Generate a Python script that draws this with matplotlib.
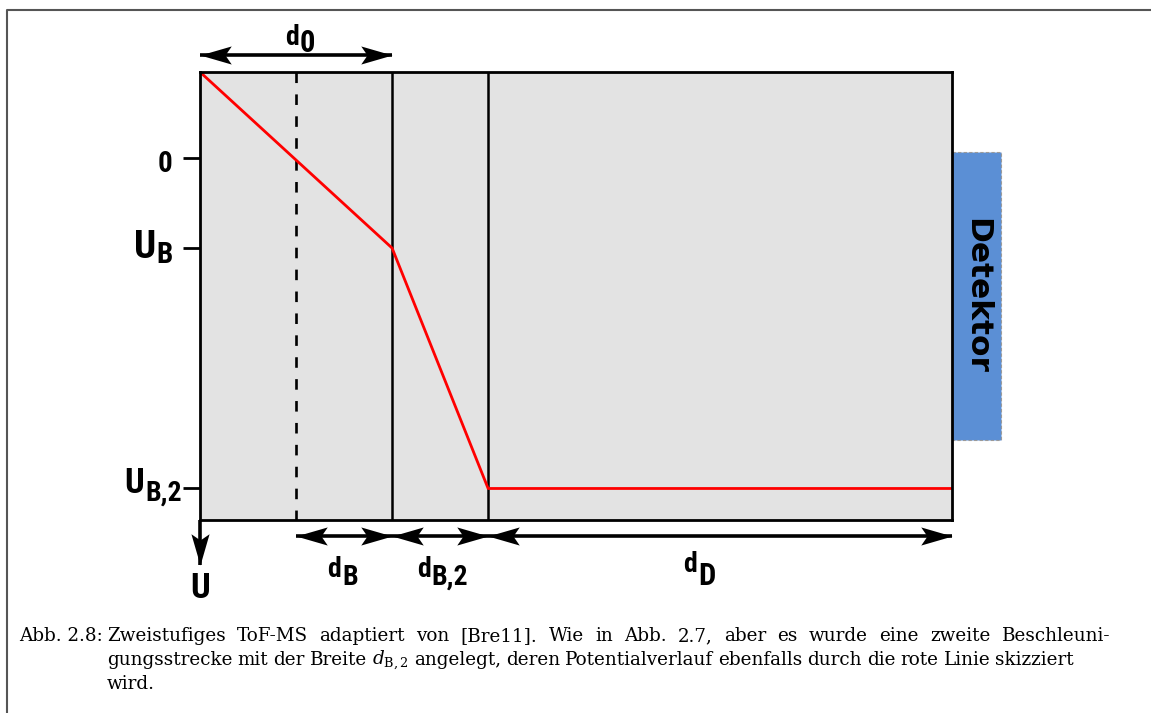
import matplotlib
matplotlib.use("Agg")
import matplotlib.pyplot as plt
from matplotlib.lines import Line2D
from matplotlib.markers import MarkerStyle
from matplotlib.patches import Rectangle
from matplotlib.path import Path

plt.rcParams.update({"mathtext.fontset": "dejavuserif"})

W, H = 1151, 713

# electrode positions along the flight axis: repeller, start plane, grid B, grid B2, detector
PLATE_X = [0.0, 1.0, 2.0, 3.0, 7.83]
# potential along the flight axis (units of U_B, drawn increasing downward)
PROFILE_X = [0.0, 2.0, 3.0, 7.83]
PROFILE_U = [-0.955, 1.0, 3.67, 3.67]
U_TICKS = [0.0, 1.0, 3.67]
U_RANGE = (-0.955, 4.02)
DETECTOR_U = (-0.07, 3.13)
DETECTOR_W = 0.51

LABEL_FONT = ["Roboto Condensed", "Open Sans", "DejaVu Sans"]
CAPTION_FONT = ["DejaVu Serif"]
CAPTION_SIZE = 13.2

fig = plt.figure(figsize=(W / 100, H / 100), dpi=100)
renderer = fig.canvas.get_renderer()


def fx(px):
    return px / W


def fy(py):
    return 1 - py / H


def _head(direction):
    pts = [(0, 0), (-1, 0.29), (-0.8, 0), (-1, -0.29), (0, 0)]
    if direction == "left":
        pts = [(-x, y) for x, y in pts]
    elif direction == "down":
        pts = [(-y, -x) for x, y in pts]
    codes = [Path.MOVETO, Path.LINETO, Path.LINETO, Path.LINETO, Path.CLOSEPOLY]
    return MarkerStyle(Path(pts, codes))


def arrow(ax, p0, p1, heads, lw=2.6, ms=45):
    ax.plot([p0[0], p1[0]], [p0[1], p1[1]], color="k", lw=lw,
            solid_capstyle="butt", clip_on=False)
    for pos, d in heads:
        ax.plot([pos[0]], [pos[1]], marker=_head(d), ms=ms, color="k",
                mew=0, ls="none", clip_on=False)


def width_px(t):
    return t.get_window_extent(renderer).width


def label(main, sub, x, y_main, y_sub, s_main, s_sub, align, gap=1):
    kw = dict(va="baseline", fontweight="heavy", family=LABEL_FONT)
    t1 = fig.text(0, 0, main, fontsize=s_main, **kw)
    t2 = fig.text(0, 0, sub, fontsize=s_sub, **kw) if sub else None
    total = width_px(t1) + (gap + width_px(t2) if t2 else 0)
    left = {"left": x, "right": x - total, "center": x - total / 2}[align]
    t1.set_position((fx(left), fy(y_main)))
    if t2:
        t2.set_position((fx(left + width_px(t1) + gap), fy(y_sub)))


def justified(text, x0, x1, y, size):
    words = text.split(" ")
    ts = [fig.text(0, 0, w, fontsize=size, family=CAPTION_FONT, va="baseline")
          for w in words]
    widths = [width_px(t) for t in ts]
    gap = (x1 - x0 - sum(widths)) / (len(words) - 1)
    x = x0
    for t, w in zip(ts, widths):
        t.set_position((fx(x), fy(y)))
        x += w + gap


ax = fig.add_axes([fx(200), fy(520), fx(952) - fx(200), fy(72) - fy(520)])
ax.set_facecolor("#e3e3e3")
ax.set_xlim(PLATE_X[0], PLATE_X[-1])
ax.set_ylim(U_RANGE[1], U_RANGE[0])
for sp in ax.spines.values():
    sp.set_linewidth(2.0)
ax.set_xticks([])
ax.set_yticks(U_TICKS)
ax.set_yticklabels([])
ax.tick_params(axis="y", length=12, width=2, direction="out")

# start plane (dashed, drawn top-down so the dash pattern starts at the repeller edge)
ax.plot([PLATE_X[1], PLATE_X[1]], list(U_RANGE), color="k", lw=1.9,
        ls=(0, (4.0, 4.3)))
for xg in PLATE_X[2:4]:
    ax.axvline(xg, color="k", lw=1.8)

ax.plot(PROFILE_X, PROFILE_U, color="red", lw=2.0)

# detector block
det = Rectangle((PLATE_X[-1], DETECTOR_U[0]), DETECTOR_W, DETECTOR_U[1] - DETECTOR_U[0],
                facecolor="#5b8fd5", edgecolor="#9a9a9a", lw=0.8, ls=(0, (3, 2)),
                clip_on=False)
ax.add_patch(det)
ax.text(PLATE_X[-1] + DETECTOR_W / 2, sum(DETECTOR_U) / 2, "Detektor",
        rotation=-90, ha="center", va="center", fontsize=22.5,
        fontweight="bold", family="DejaVu Sans")

# distance arrows
y_top = -1.144
y_bot = 4.2
arrow(ax, (PLATE_X[0], y_top), (PLATE_X[2], y_top),
      [((PLATE_X[0], y_top), "left"), ((PLATE_X[2], y_top), "right")])
for a, b in [(1, 2), (2, 3), (3, 4)]:
    arrow(ax, (PLATE_X[a], y_bot), (PLATE_X[b], y_bot),
          [((PLATE_X[a], y_bot), "left"), ((PLATE_X[b], y_bot), "right")])
# potential axis arrow
arrow(ax, (PLATE_X[0], U_RANGE[1]), (PLATE_X[0], 4.522),
      [((PLATE_X[0], 4.522), "down")])

# axis and distance labels
label("0", None, 165, 172, 172, 21, 21, "center")
label("U", "B", 173, 258, 263, 28, 21, "right")
label("U", "B,2", 182, 493, 501, 25, 20, "right")
label("U", None, 200, 598, 598, 25, 25, "center")
label("d", "B", 342.5, 577, 585, 20, 20, "center")
label("d", "B,2", 442.5, 577, 585, 20, 20, "center")
label("d", "D", 699, 572, 585, 20, 22, "center")
label("d", "0", 300, 45, 52, 20, 22, "center")

# caption
fig.text(fx(103), fy(641), "Abb. 2.8:", fontsize=CAPTION_SIZE, family=CAPTION_FONT,
         va="baseline", ha="right")
justified("Zweistufiges ToF-MS adaptiert von [Bre11]. Wie in Abb. 2.7, aber es wurde "
          "eine zweite Beschleuni-", 107, 1110, 641, CAPTION_SIZE)
justified(r"gungsstrecke mit der Breite $d_{\mathrm{B,2}}$ angelegt, deren Potentialverlauf "
          "ebenfalls durch die rote Linie skizziert", 107, 1074, 665, CAPTION_SIZE)
fig.text(fx(107), fy(689), "wird.", fontsize=CAPTION_SIZE, family=CAPTION_FONT,
         va="baseline")

# frame
fig.add_artist(Line2D([fx(7), fx(7), fx(W + 5)], [fy(H + 5), fy(10), fy(10)],
                      color="#555555", lw=1.5, transform=fig.transFigure))

fig.savefig("out.png", dpi=100)
